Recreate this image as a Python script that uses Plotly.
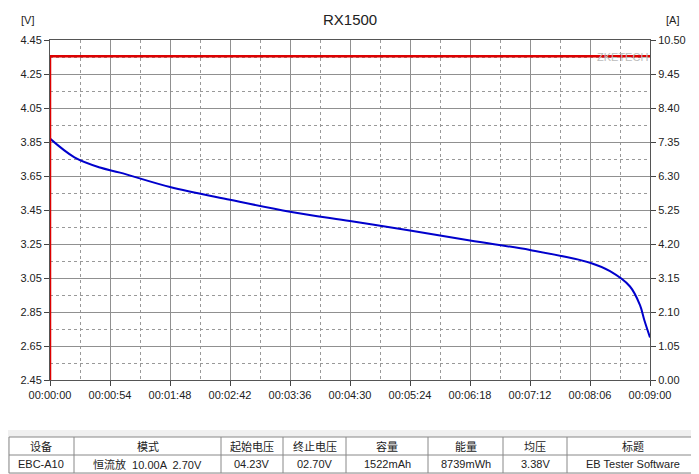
import plotly.graph_objects as go

# time in seconds, voltage in V
t_s = [0, 22, 45, 63, 108, 162, 216, 270, 324, 378, 432, 486, 504, 522, 531, 535, 540]
volts = [3.87, 3.76, 3.70, 3.67, 3.585, 3.51, 3.44, 3.385, 3.33, 3.27, 3.215, 3.14, 3.09, 3.00, 2.89, 2.80, 2.70]
cur_t = [0, 0, 540]
cur_a = [0, 10.0, 10.0]
tick_s = [0, 54, 108, 162, 216, 270, 324, 378, 432, 486, 540]
tick_lbl = ["00:00:00", "00:00:54", "00:01:48", "00:02:42", "00:03:36", "00:04:30",
            "00:05:24", "00:06:18", "00:07:12", "00:08:06", "00:09:00"]
v_ticks = [2.45, 2.65, 2.85, 3.05, 3.25, 3.45, 3.65, 3.85, 4.05, 4.25, 4.45]
a_ticks = [0.0, 1.05, 2.10, 3.15, 4.20, 5.25, 6.30, 7.35, 8.40, 9.45, 10.50]
headers = ["设备", "模式", "起始电压", "终止电压", "容量", "能量", "均压", "标题"]
values = ["EBC-A10", "恒流放  10.00A  2.70V", "04.23V", "02.70V", "1522mAh", "8739mWh", "3.38V", "EB Tester Software"]
col_px = [0, 74, 221, 283, 346, 428, 503, 567, 699]

F = "Liberation Sans"
fig = go.Figure()
fig.add_trace(go.Scatter(x=t_s, y=volts, mode="lines", line=dict(color="#0000cc", width=2, shape="spline"), showlegend=False))
fig.add_trace(go.Scatter(x=cur_t, y=cur_a, yaxis="y2", mode="lines", line=dict(color="#dd0000", width=2.5), showlegend=False))

grid = dict(showgrid=True, gridcolor="#909090", gridwidth=1)
fig.update_layout(
    width=691, height=466, margin=dict(l=42, r=49, t=32, b=94, autoexpand=False),
    paper_bgcolor="white", plot_bgcolor="white",
    font=dict(family=F, size=11, color="#222"),
    xaxis=dict(range=[0, 540], tickvals=tick_s, ticktext=tick_lbl, ticks="outside", ticklen=5, automargin=False,
               zeroline=False, showline=True, linecolor="#555", mirror=True, **grid,
               minor=dict(showgrid=True, dtick=27, tick0=0, griddash="3px,3px", gridcolor="#999")),
    yaxis=dict(range=[2.45, 4.45], tickvals=v_ticks, tickformat=".2f", ticks="outside", ticklen=5, automargin=False,
               zeroline=False, showline=True, linecolor="#555", **grid,
               minor=dict(showgrid=True, dtick=0.1, tick0=2.45, griddash="3px,3px", gridcolor="#999")),
    yaxis2=dict(range=[0, 10.5], overlaying="y", side="right", tickvals=a_ticks, tickformat=".2f", automargin=False,
                ticks="outside", ticklen=5, showgrid=False, zeroline=False, showline=True, linecolor="#555"),
)
ann = [
    dict(text="RX1500", x=350, y=20, size=15),
    dict(text="[V]", x=27, y=20, size=11),
    dict(text="[A]", x=672, y=20, size=11),
    dict(text="ZKETECH", x=622, y=57, size=11, color="#bbbbbb"),
]
def py(y):
    return (380 - y) / 340
for a in ann:
    fig.add_annotation(text=a["text"], x=(a["x"] - 50) / 600, y=py(a["y"]), xref="paper", yref="paper",
                       xanchor="center", yanchor="middle",
                       showarrow=False, font=dict(size=a["size"], color=a.get("color", "#222")))
# table
x0p = lambda x: (x - 50) / 600
fig.add_shape(type="rect", xref="paper", yref="paper", x0=x0p(0), x1=x0p(699), y0=py(474), y1=py(430),
              fillcolor="#f0f0f0", line=dict(width=0), layer="below")
fig.add_shape(type="rect", xref="paper", yref="paper", x0=x0p(9), x1=x0p(698), y0=py(473), y1=py(437),
              fillcolor="white", line=dict(color="#888", width=1))
fig.add_shape(type="line", xref="paper", yref="paper", x0=x0p(9), x1=x0p(698), y0=py(455), y1=py(455),
              line=dict(color="#888", width=1))
for i in range(1, len(col_px) - 1):
    fig.add_shape(type="line", xref="paper", yref="paper", x0=x0p(col_px[i]), x1=x0p(col_px[i]),
                  y0=py(473), y1=py(437), line=dict(color="#888", width=1))
for i in range(len(headers)):
    cx = x0p((max(col_px[i], 8) + col_px[i + 1]) / 2)
    fig.add_annotation(text=headers[i], x=cx, y=py(446), xref="paper", yref="paper", showarrow=False,
                       xanchor="center", yanchor="middle", font=dict(size=11, family="Noto Sans CJK SC"))
    fig.add_annotation(text=values[i], x=cx, y=py(464), xref="paper", yref="paper", showarrow=False,
                       xanchor="center", yanchor="middle", font=dict(size=11, family=F + ", Noto Sans CJK SC"))
fig.write_html("out.html")
